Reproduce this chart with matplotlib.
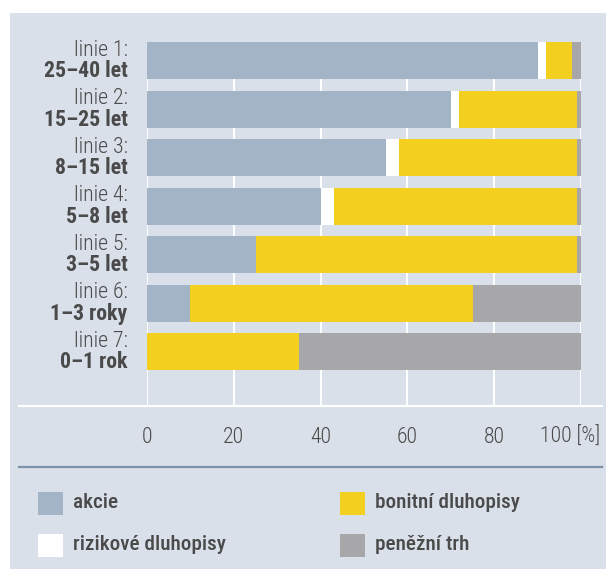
import matplotlib
matplotlib.use("Agg")
import matplotlib.pyplot as plt
from matplotlib.patches import Rectangle
from matplotlib.lines import Line2D
from matplotlib.transforms import ScaledTranslation

# Data
lines = ['linie 1:', 'linie 2:', 'linie 3:', 'linie 4:', 'linie 5:', 'linie 6:', 'linie 7:']
horizons = ['25–40 let', '15–25 let', '8–15 let', '5–8 let', '3–5 let', '1–3 roky', '0–1 rok']
akcie = [90, 70, 55, 40, 25, 10, 0]
rizikove = [2, 2, 3, 3, 0, 0, 0]
bonitni = [6, 27, 41, 56, 74, 65, 35]
penezni = [2, 1, 1, 1, 1, 25, 65]
series_names = ['akcie', 'rizikové dluhopisy', 'bonitní dluhopisy', 'peněžní trh']
xticks = [0, 20, 40, 60, 80, 100]
xtick_labels = ['0', '20', '40', '60', '80', '100 [%]']

# Styling
BG = '#d9e0ea'
COLORS = ['#a3b4c6', '#ffffff', '#f3cf20', '#a7a7a9']
TEXT = '#4a4a4a'
FONT = ['Roboto Condensed', 'DejaVu Sans Condensed', 'Liberation Sans Narrow', 'DejaVu Sans']
plt.rcParams['font.family'] = FONT
plt.rcParams['font.stretch'] = 'condensed'
FS = 15.7

W, H = 606, 569
fig = plt.figure(figsize=(W / 100, H / 100), dpi=100)
fig.patch.set_facecolor('white')

# background panel
fig.patches.append(Rectangle((10 / W, 0), 596 / W, (H - 13) / H, transform=fig.transFigure,
                             facecolor=BG, edgecolor='none', zorder=-10))


def fy(py):
    return 1 - py / H


ax = fig.add_axes([147 / W, fy(406), 434 / W, (406 - 42) / H])
ax.set_facecolor('none')
n = len(lines)
pos = list(range(n))
left = [0] * n
for vals, color, name in zip([akcie, rizikove, bonitni, penezni], COLORS, series_names):
    ax.barh(pos, vals, left=left, height=0.765, color=color, label=name, zorder=3, linewidth=0)
    left = [l + v for l, v in zip(left, vals)]

ax.set_xlim(0, 100)
ax.set_ylim(7.12, -0.385)
ax.set_xticks(xticks)
ax.set_xticklabels(xtick_labels, fontweight='light')
ax.set_yticks([])
ax.grid(axis='x', color='white', linewidth=1.4, zorder=0)
ax.tick_params(axis='x', length=0, pad=15, labelsize=FS, labelcolor=TEXT)
for s in ax.spines.values():
    s.set_visible(False)
last = ax.get_xticklabels()[-1]
last.set_transform(last.get_transform() + ScaledTranslation(-11 / 100, 0, fig.dpi_scale_trans))

# category labels
for i, (ln, hz) in enumerate(zip(lines, horizons)):
    ax.annotate(ln, xy=(0, i), xycoords=('axes fraction', 'data'), xytext=(-14, 7.5),
                textcoords='offset points', ha='right', va='center', fontsize=FS,
                fontweight='light', color=TEXT)
    ax.annotate(hz, xy=(0, i), xycoords=('axes fraction', 'data'), xytext=(-14, -7.5),
                textcoords='offset points', ha='right', va='center', fontsize=FS,
                fontweight='bold', color=TEXT)

# separator lines
fig.add_artist(Line2D([19 / W, 602 / W], [fy(406), fy(406)], color='white', linewidth=1.6))
fig.add_artist(Line2D([19 / W, 602 / W], [fy(467), fy(467)], color='#7d92a9', linewidth=1.6))

# legend
leg_pos = [(38, 503), (38, 545), (340, 503), (340, 545)]
for (lx, ly), color, name in zip(leg_pos, COLORS, series_names):
    fig.patches.append(Rectangle((lx / W, fy(ly + 11.5)), 25 / W, 23 / H, transform=fig.transFigure,
                                 facecolor=color, edgecolor='none'))
    fig.text((lx + 35) / W, fy(ly), name, ha='left', va='center', fontsize=FS - 0.5,
             fontweight='medium', color=TEXT)

fig.savefig('out.png', dpi=100, facecolor=fig.get_facecolor())
